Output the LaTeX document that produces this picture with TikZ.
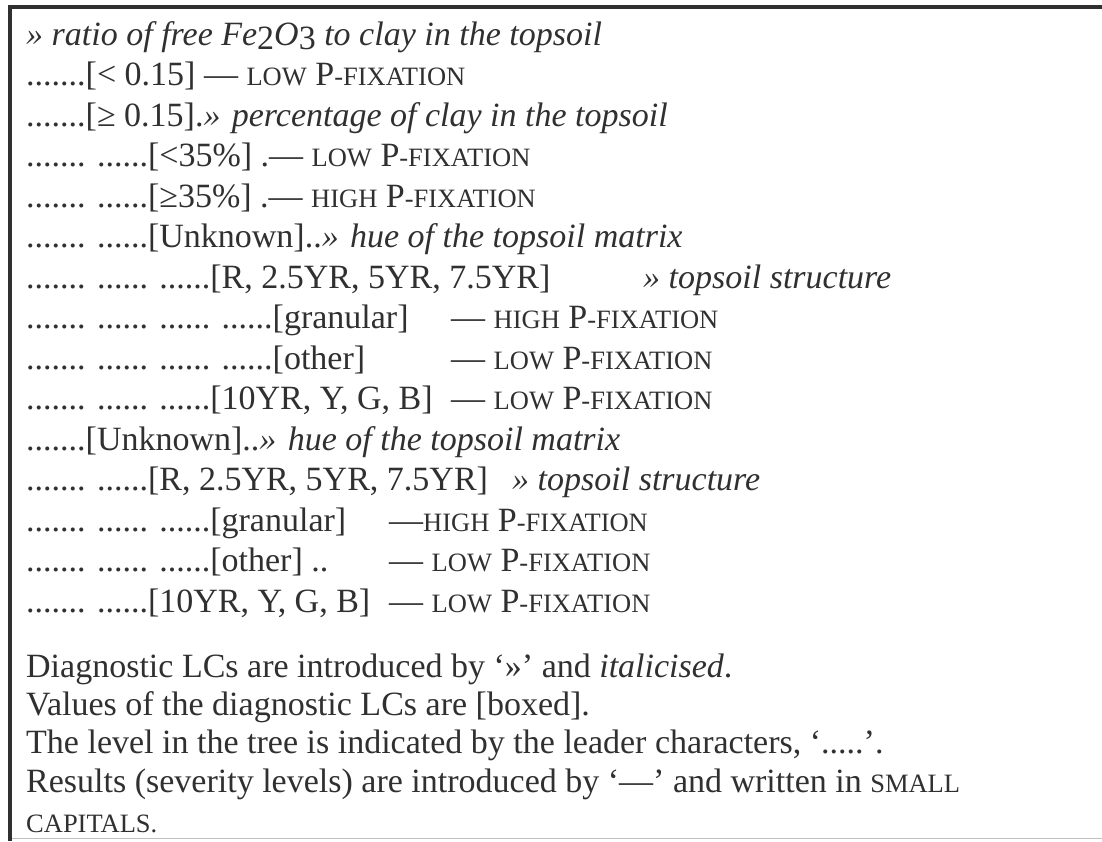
\documentclass[tikz,border=0pt]{standalone}
\usepackage{fontspec}
\setmainfont{Liberation Serif}
\definecolor{ink}{HTML}{303030}
\newcommand\smc[1]{{\fontsize{26.5}{26.5}\selectfont #1}}
\newcommand\pfix[1]{\smc{#1} P\smc{-FIXATION}}
\newcommand\subdn[1]{\raisebox{-4pt}{\textup{#1}}}
\begin{document}
\begin{tikzpicture}[x=1pt,y=-1pt,
  txt/.style={inner sep=0pt, anchor=base west, text=ink, font=\fontsize{34}{40}\selectfont},
  frame/.style={draw=ink, line width=3.2pt},
  faint/.style={draw=black!25, line width=1pt}]
\useasboundingbox (0,0) rectangle (1102,841);
\fill[white] (0,0) rectangle (1102,841);
\draw[faint] (10,838) -- (1102,838);
\draw[frame] (10,841) -- (10,7) -- (1102,7);
% tree
\node[txt] (l0) at (26,45) {\itshape » ratio of free Fe\subdn{2}O\subdn{3} to clay in the topsoil};
\node[txt] (l1) at (26,85.5) {.......[< 0.15] — \pfix{LOW}};
\node[txt] (l2) at (26,126) {.......[≥ 0.15].\textit{» percentage of clay in the topsoil}};
\node[txt] (l3) at (26,166.5) {....... ......[<35\%] .— \pfix{LOW}};
\node[txt] (l4) at (26,207) {....... ......[≥35\%] .— \pfix{HIGH}};
\node[txt] (l5) at (26,247.5) {....... ......[Unknown]..\textit{» hue of the topsoil matrix}};
\node[txt] (l6) at (26,288) {....... ...... ......[R, 2.5YR, 5YR, 7.5YR]};
\node[txt] (t6) at (643,288) {\itshape » topsoil structure};
\node[txt] (l7) at (26,328.5) {....... ...... ...... ......[granular]};
\node[txt] (t7) at (451,328.5) {— \pfix{HIGH}};
\node[txt] (l8) at (26,369) {....... ...... ...... ......[other]};
\node[txt] (t8) at (451,369) {— \pfix{LOW}};
\node[txt] (l9) at (26,409.5) {....... ...... ......[10YR, Y, G, B]};
\node[txt] (t9) at (451,409.5) {— \pfix{LOW}};
\node[txt] (l10) at (26,450) {.......[Unknown]..\textit{» hue of the topsoil matrix}};
\node[txt] (l11) at (26,490.5) {....... ......[R, 2.5YR, 5YR, 7.5YR]};
\node[txt] (t11) at (512,490.5) {\itshape » topsoil structure};
\node[txt] (l12) at (26,531) {....... ...... ......[granular]};
\node[txt] (t12) at (389,531) {—\pfix{HIGH}};
\node[txt] (l13) at (26,571.5) {....... ...... ......[other] ..};
\node[txt] (t13) at (389,571.5) {— \pfix{LOW}};
\node[txt] (l14) at (26,612) {....... ......[10YR, Y, G, B]};
\node[txt] (t14) at (389,612) {— \pfix{LOW}};
% legend
\node[txt] (b0) at (26,677) {Diagnostic LCs are introduced by ‘»’ and \textit{italicised}.};
\node[txt] (b1) at (26,715) {Values of the diagnostic LCs are [boxed].};
\node[txt] (b2) at (26,753) {The level in the tree is indicated by the leader characters, ‘.....’.};
\node[txt] (b3) at (26,792) {Results (severity levels) are introduced by ‘—’ and written in \smc{SMALL}};
\node[txt] (b4) at (26,832) {\smc{CAPITALS.}};
\end{tikzpicture}
\end{document}
